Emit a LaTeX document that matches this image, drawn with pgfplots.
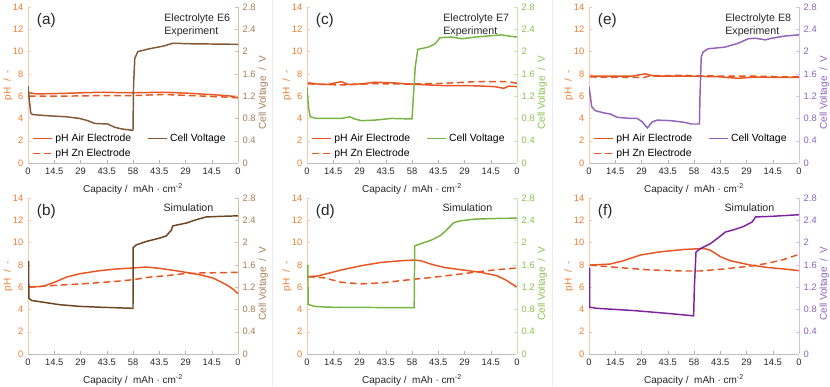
\documentclass[border=0pt]{standalone}
\usepackage{fontspec}
\setmainfont{Liberation Sans}
\usepackage{pgfplots}
\pgfplotsset{compat=1.18}

\definecolor{phline}{HTML}{E85520}
\definecolor{phtick}{HTML}{ED7D31}
\definecolor{phaxis}{HTML}{F8CBAD}
\definecolor{brline}{HTML}{7F5A36}
\definecolor{brlineb}{HTML}{6B4520}
\definecolor{brtick}{HTML}{A67C55}
\definecolor{braxis}{HTML}{D5C0AA}
\definecolor{grline}{HTML}{78B443}
\definecolor{grtick}{HTML}{8AC04E}
\definecolor{graxis}{HTML}{C9E2B5}
\definecolor{puline}{HTML}{9462B8}
\definecolor{pulineb}{HTML}{7E22A0}
\definecolor{putick}{HTML}{8C62BA}
\definecolor{puaxis}{HTML}{D3C2E5}
\definecolor{txt}{HTML}{262626}

\pgfplotsset{
  base/.style={
    scale only axis, width=157.5pt, height=117pt,
    xmin=0, xmax=116, clip=true,
    /pgf/number format/assume math mode=true,
    tick align=inside, major tick length=2pt,
    axis line style={-},
    ticklabel style={font=\fontsize{7}{8}\selectfont},
    label style={font=\fontsize{7.5}{9}\selectfont},
  },
  ph/.style={base,
    ymin=0, ymax=14,
    axis x line*=bottom, axis y line*=left,
    xtick={0,14.5,29,43.5,58,72.5,87,101.5,116},
    xticklabels={0,14.5,29,43.5,58,43.5,29,14.5,0},
    ytick={0,2,4,6,8,10,12,14},
    ylabel={pH\ \ /\ \ -},
    xlabel={Capacity /\ \ mAh · cm\textsuperscript{-2}},
    x axis line style={draw=black!25},
    y axis line style={draw=phaxis},
    xtick style={draw=black!30},
    ytick style={draw=phaxis},
    xticklabel style={text=txt},
    yticklabel style={text=phtick},
    ylabel style={text=phtick, at={(axis description cs:-0.095,0.5)}, anchor=center},
    xlabel style={text=txt},
  },
  volt/.style 2 args={base,
    ymin=0, ymax=2.8,
    axis x line=none, axis y line*=right,
    ytick={0,0.4,0.8,1.2,1.6,2,2.4,2.8},
    ylabel={Cell Voltage\ \ /\ \ V},
    y axis line style={draw=#2},
    ytick style={draw=#2},
    yticklabel style={text=#1},
    ylabel style={text=#1, at={(axis description cs:1.12,0.45)}, anchor=center},
  },
  leg/.style={
    legend columns=2,
    legend cell align=left,
    legend style={at={(0.02,0.012)}, anchor=south west, draw=none, fill=none,
      inner sep=0pt, font=\fontsize{7.8}{8.5}\selectfont,
      /tikz/every even column/.append style={column sep=10pt},
      row sep=0pt},
    legend image code/.code={\draw[##1, line width=1.2pt] (0pt,0pt) -- (14pt,0pt);},
  },
  phair/.style={draw=phline, line width=1.1pt},
  phzn/.style={draw=phline, line width=1.1pt, dash pattern=on 5pt off 3pt},
}
\tikzset{
  plab/.style={anchor=west, font=\fontsize{11.5}{13}\selectfont, text=txt},
  note/.style={anchor=north east, align=left, font=\fontsize{8}{9.3}\selectfont, text=txt},
}

\begin{document}
\begin{tikzpicture}
\useasboundingbox (0,0) rectangle (622.5pt,289.5pt);
\draw[black!8] (204pt,0) -- (204pt,289.5pt);
\draw[black!8] (414pt,0) -- (414pt,289.5pt);

% ---------- (a) ----------
\begin{axis}[ph, at={(21pt,167.25pt)}, anchor=south west]
\addplot[phair] coordinates {(0.5,6.3)(5,6.2)(20,6.25)(40,6.35)(58,6.3)(75,6.35)(90,6.25)(105,6.1)(116,5.95)};
\addplot[phzn] coordinates {(0.5,6.0)(20,6.0)(40,6.05)(58,6.05)(75,6.15)(90,6.05)(105,5.95)(116,5.85)};
\node[plab] at (rel axis cs:0.02,0.915) {(a)};
\node[note] at (rel axis cs:0.985,0.985) {Electrolyte E6\\Experiment};
\end{axis}
\begin{axis}[volt={brtick}{braxis}, leg, at={(21pt,167.25pt)}, anchor=south west]
\addlegendimage{draw=phline}\addlegendentry{pH Air Electrode}
\addplot[draw=brline, line width=1.1pt] coordinates {(0,1.38)(0.5,1.2)(1.5,0.9)(2.5,0.87)(10,0.85)(21,0.83)(28.5,0.80)(33,0.76)(36.8,0.71)(44,0.70)(48,0.64)(52,0.61)(57,0.59)(58,0.59)(58.3,1.4)(59,1.88)(60.7,2.0)(67,2.05)(75,2.10)(80,2.15)(90,2.14)(116,2.13)};
\addlegendentry{Cell Voltage}
\addlegendimage{draw=phline, dash pattern=on 5pt off 3pt}\addlegendentry{pH Zn Electrode}
\end{axis}

% ---------- (b) ----------
\begin{axis}[ph, at={(21pt,24pt)}, anchor=south west]
\addplot[phair] coordinates {(0.5,6.0)(8.3,6.07)(15.6,6.5)(21.2,6.9)(28.5,7.2)(39.6,7.48)(48.8,7.63)(58,7.72)(65.4,7.8)(72.7,7.69)(83.8,7.42)(94.8,7.12)(102.2,6.82)(109.6,6.22)(113.2,5.83)(116,5.41)};
\addplot[phzn] coordinates {(0.5,6.0)(12,6.13)(30.4,6.3)(48.8,6.52)(58,6.67)(67.2,6.9)(76.4,7.03)(85.6,7.2)(94.8,7.27)(116,7.33)};
\node[plab] at (rel axis cs:0.02,0.915) {(b)};
\node[note, anchor=east] at (rel axis cs:0.905,0.936) {Simulation};
\end{axis}
\begin{axis}[volt={brtick}{braxis}, at={(21pt,24pt)}, anchor=south west]
\addplot[draw=brlineb, line width=1.1pt] coordinates {(0.3,1.67)(0.5,1.0)(2,0.96)(8.3,0.93)(17.5,0.885)(28.5,0.855)(39.6,0.84)(58,0.82)(58.1,1.91)(59.9,1.96)(65.4,2.02)(72.7,2.08)(76.4,2.12)(79.1,2.22)(80,2.30)(87.4,2.35)(92.9,2.41)(98.4,2.46)(105.8,2.47)(116,2.48)};
\end{axis}

% ---------- (c) ----------
\begin{axis}[ph, at={(230.25pt,167.25pt)}, anchor=south west]
\addplot[phair] coordinates {(0.5,7.2)(6,7.08)(11.6,7.05)(19,7.3)(22.7,7.05)(30,7.1)(37.5,7.25)(46.7,7.2)(57.8,7.08)(74.4,6.95)(92.9,6.93)(104,6.85)(108.6,6.7)(111.4,6.9)(116,6.85)};
\addplot[phzn] coordinates {(0.5,7.1)(19,7.0)(37,7.12)(55,7.08)(74.4,7.14)(92.9,7.3)(111,7.3)(116,7.15)};
\node[plab] at (rel axis cs:0.02,0.915) {(c)};
\node[note] at (rel axis cs:0.985,0.985) {Electrolyte E7\\Experiment};
\end{axis}
\begin{axis}[volt={grtick}{graxis}, leg, at={(230.25pt,167.25pt)}, anchor=south west]
\addlegendimage{draw=phline}\addlegendentry{pH Air Electrode}
\addplot[draw=grline, line width=1.1pt] coordinates {(0,1.36)(0.8,1.0)(1.8,0.83)(5,0.80)(19,0.80)(23.6,0.83)(26.4,0.79)(30,0.76)(37.5,0.77)(46.7,0.80)(58,0.79)(58.4,1.0)(59.8,1.73)(61.2,2.04)(67,2.08)(70.8,2.14)(73.5,2.25)(80,2.26)(85.5,2.23)(92.9,2.26)(107.6,2.3)(111.4,2.28)(116,2.26)};
\addlegendentry{Cell Voltage}
\addlegendimage{draw=phline, dash pattern=on 5pt off 3pt}\addlegendentry{pH Zn Electrode}
\end{axis}

% ---------- (d) ----------
\begin{axis}[ph, at={(230.25pt,24pt)}, anchor=south west]
\addplot[phair] coordinates {(0.5,6.94)(6,7.0)(18.9,7.54)(29.9,7.92)(40.9,8.22)(51.9,8.37)(59.2,8.43)(62.9,8.37)(68.4,8.07)(75.7,7.77)(84.8,7.57)(95.8,7.33)(104.9,7.03)(110.4,6.59)(116,5.99)};
\addplot[phzn] coordinates {(0.5,6.94)(9.7,6.83)(18.9,6.44)(29.9,6.29)(40.9,6.38)(55.5,6.65)(66.5,6.83)(77.5,7.03)(92.2,7.33)(103.1,7.54)(116,7.72)};
\node[plab] at (rel axis cs:0.02,0.915) {(d)};
\node[note, anchor=east] at (rel axis cs:0.905,0.936) {Simulation};
\end{axis}
\begin{axis}[volt={grtick}{graxis}, at={(230.25pt,24pt)}, anchor=south west]
\addplot[draw=grline, line width=1.1pt] coordinates {(0.5,1.6)(0.6,0.89)(4.2,0.855)(11.5,0.84)(59.2,0.83)(59.5,1.94)(62.9,1.98)(68.4,2.04)(73.9,2.13)(77.5,2.24)(81.2,2.36)(84.8,2.39)(92.2,2.42)(101.3,2.43)(116,2.44)};
\end{axis}

% ---------- (e) ----------
\begin{axis}[ph, at={(441.75pt,167.25pt)}, anchor=south west]
\addplot[phair] coordinates {(0.5,7.8)(24,7.8)(31,8.0)(36,7.8)(53,7.8)(71.5,7.74)(82.5,7.6)(90,7.7)(116,7.68)};
\addplot[phzn] coordinates {(0.5,7.72)(30.5,7.68)(34,7.84)(53,7.86)(71.5,7.8)(90,7.8)(116,7.72)};
\node[plab] at (rel axis cs:0.02,0.915) {(e)};
\node[note] at (rel axis cs:0.985,0.985) {Electrolyte E8\\Experiment};
\end{axis}
\begin{axis}[volt={putick}{puaxis}, leg, at={(441.75pt,167.25pt)}, anchor=south west]
\addlegendimage{draw=phline}\addlegendentry{pH Air Electrode}
\addplot[draw=puline, line width=1.1pt] coordinates {(0,1.37)(1.5,1.01)(3.4,0.94)(8,0.90)(11.7,0.88)(15.5,0.82)(22.9,0.80)(26.6,0.80)(29.4,0.74)(32.2,0.63)(35,0.74)(37.8,0.77)(45.2,0.76)(52.7,0.73)(56.4,0.70)(61,0.70)(61.3,1.2)(62,1.90)(63,1.99)(65.7,2.05)(75,2.08)(82.5,2.15)(88,2.23)(91.8,2.24)(97.4,2.21)(101,2.24)(108.5,2.28)(116,2.3)};
\addlegendentry{Cell Voltage}
\addlegendimage{draw=phline, dash pattern=on 5pt off 3pt}\addlegendentry{pH Zn Electrode}
\end{axis}

% ---------- (f) ----------
\begin{axis}[ph, at={(441.75pt,24pt)}, anchor=south west]
\addplot[phair] coordinates {(0.5,7.98)(11.6,8.07)(19,8.37)(28.3,8.88)(39.3,9.17)(52.3,9.38)(63.4,9.47)(67,9.32)(72.6,8.73)(78.1,8.37)(89.2,7.98)(98.4,7.77)(107.7,7.63)(116,7.48)};
\addplot[phzn] coordinates {(0.5,7.98)(15.3,7.77)(33.8,7.54)(52.3,7.45)(61.5,7.45)(74.4,7.63)(89.2,7.89)(98.4,8.13)(107.7,8.49)(116,8.94)};
\node[plab] at (rel axis cs:0.02,0.915) {(f)};
\node[note, anchor=east] at (rel axis cs:0.905,0.936) {Simulation};
\end{axis}
\begin{axis}[volt={putick}{puaxis}, at={(441.75pt,24pt)}, anchor=south west]
\addplot[draw=pulineb, line width=1.1pt] coordinates {(0.3,1.55)(0.4,0.84)(4.2,0.82)(24.6,0.78)(43,0.73)(57.8,0.685)(58.2,1.2)(59.1,1.83)(61.5,1.89)(67,1.98)(70.7,2.07)(75.4,2.19)(80,2.23)(85.5,2.29)(90.1,2.37)(92,2.46)(100.3,2.47)(116,2.5)};
\end{axis}
\end{tikzpicture}
\end{document}
